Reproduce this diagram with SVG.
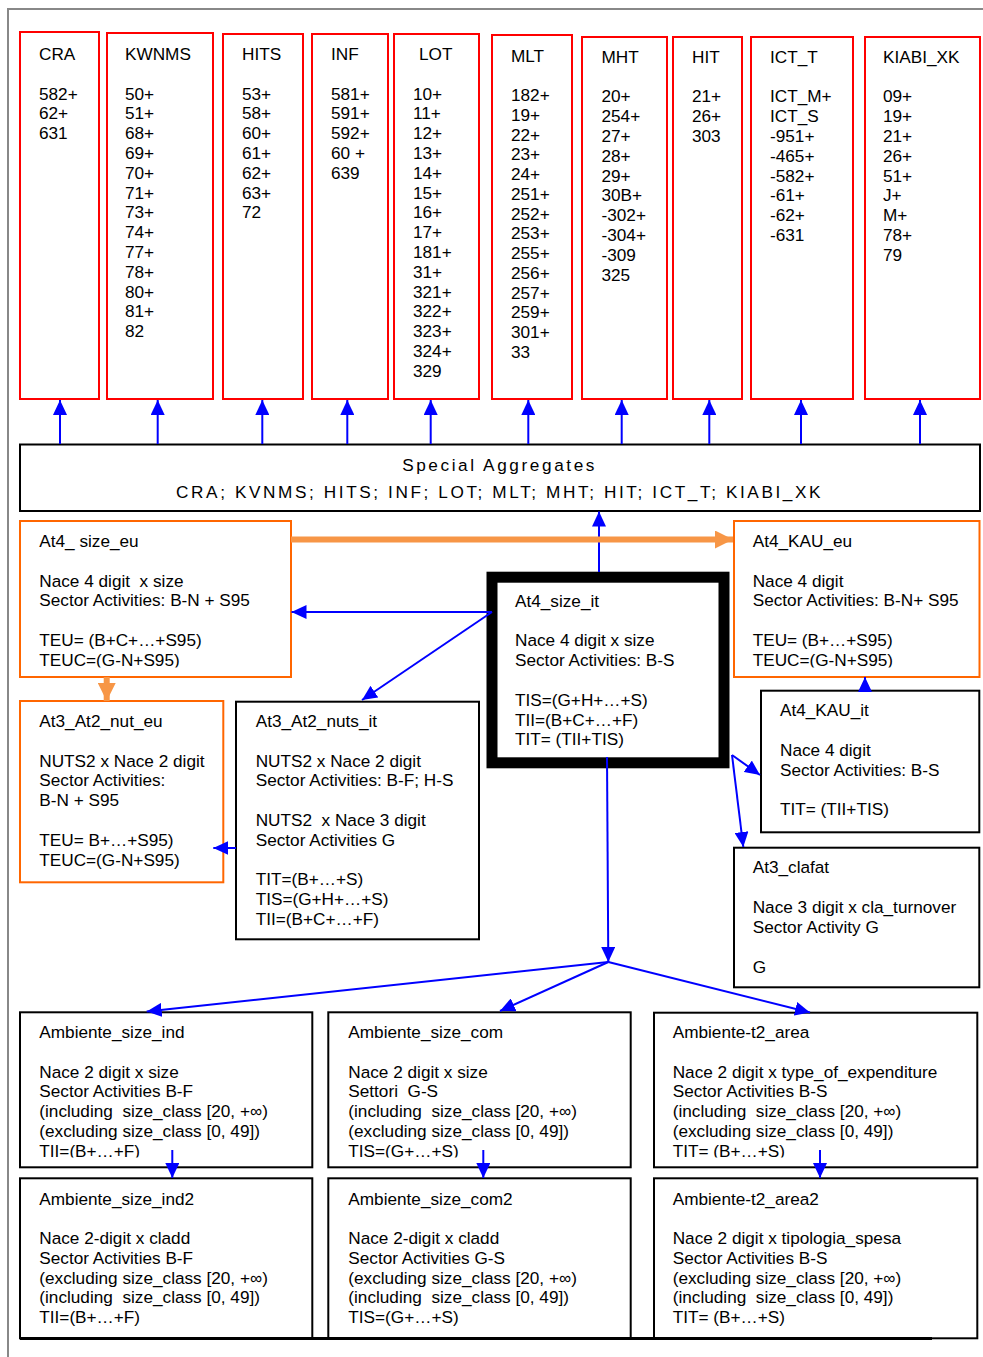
<svg xmlns="http://www.w3.org/2000/svg" width="983" height="1357" viewBox="0 0 983 1357">
<style>
.t{font-family:"Liberation Sans",Arial,sans-serif;font-size:17.2px;fill:#000;white-space:pre}
.sa{font-family:"Liberation Sans",Arial,sans-serif;font-size:17.2px;fill:#000;letter-spacing:2.6px;text-anchor:middle}
.red{fill:#fff;stroke:#FF0000;stroke-width:2}
.blk{fill:#fff;stroke:#000;stroke-width:2}
.org{fill:#fff;stroke:#FF6600;stroke-width:2}
.c{stroke:#0000FF;stroke-width:2;fill:none;marker-end:url(#ab)}
.oc{stroke:#F79646;stroke-width:6;fill:none;marker-end:url(#ao)}
</style>
<defs>
<marker id="ab" markerUnits="userSpaceOnUse" markerWidth="15" markerHeight="14" refX="15" refY="7" orient="auto"><path d="M0,0 L15,7 L0,14 z" fill="#0000FF"/></marker>
<marker id="ao" markerUnits="userSpaceOnUse" markerWidth="18" markerHeight="18" refX="18" refY="9" orient="auto"><path d="M0,0 L18,9 L0,18 z" fill="#F79646"/></marker>
<clipPath id="cl1"><rect x="0" y="500" width="983" height="167.5"/></clipPath>
<clipPath id="cl2"><rect x="0" y="1000" width="983" height="157.5"/></clipPath>
</defs>
<rect width="983" height="1357" fill="#fff"/>
<path d="M8,1357 V9 H983" fill="none" stroke="#888" stroke-width="2"/>

<g id="CRA"><rect class="red" x="20" y="32" width="79" height="367"/>
<text class="t"><tspan x="39" y="60">CRA</tspan><tspan x="39" y="99.6">582+</tspan><tspan x="39" dy="19.8">62+</tspan><tspan x="39" dy="19.8">631</tspan></text></g>

<g id="KWNMS"><rect class="red" x="107" y="33" width="106" height="366"/>
<text class="t"><tspan x="125" y="60">KWNMS</tspan><tspan x="125" y="99.6">50+</tspan><tspan x="125" dy="19.8">51+</tspan><tspan x="125" dy="19.8">68+</tspan><tspan x="125" dy="19.8">69+</tspan><tspan x="125" dy="19.8">70+</tspan><tspan x="125" dy="19.8">71+</tspan><tspan x="125" dy="19.8">73+</tspan><tspan x="125" dy="19.8">74+</tspan><tspan x="125" dy="19.8">77+</tspan><tspan x="125" dy="19.8">78+</tspan><tspan x="125" dy="19.8">80+</tspan><tspan x="125" dy="19.8">81+</tspan><tspan x="125" dy="19.8">82</tspan></text></g>

<g id="HITS"><rect class="red" x="223" y="34" width="80" height="365"/>
<text class="t"><tspan x="242" y="60">HITS</tspan><tspan x="242" y="99.6">53+</tspan><tspan x="242" dy="19.8">58+</tspan><tspan x="242" dy="19.8">60+</tspan><tspan x="242" dy="19.8">61+</tspan><tspan x="242" dy="19.8">62+</tspan><tspan x="242" dy="19.8">63+</tspan><tspan x="242" dy="19.8">72</tspan></text></g>

<g id="INF"><rect class="red" x="312" y="34" width="76" height="365"/>
<text class="t"><tspan x="331" y="60">INF</tspan><tspan x="331" y="99.6">581+</tspan><tspan x="331" dy="19.8">591+</tspan><tspan x="331" dy="19.8">592+</tspan><tspan x="331" dy="19.8">60 +</tspan><tspan x="331" dy="19.8">639</tspan></text></g>

<g id="LOT"><rect class="red" x="394" y="34" width="85" height="365"/>
<text class="t"><tspan x="419" y="60">LOT</tspan><tspan x="413" y="99.6">10+</tspan><tspan x="413" dy="19.8">11+</tspan><tspan x="413" dy="19.8">12+</tspan><tspan x="413" dy="19.8">13+</tspan><tspan x="413" dy="19.8">14+</tspan><tspan x="413" dy="19.8">15+</tspan><tspan x="413" dy="19.8">16+</tspan><tspan x="413" dy="19.8">17+</tspan><tspan x="413" dy="19.8">181+</tspan><tspan x="413" dy="19.8">31+</tspan><tspan x="413" dy="19.8">321+</tspan><tspan x="413" dy="19.8">322+</tspan><tspan x="413" dy="19.8">323+</tspan><tspan x="413" dy="19.8">324+</tspan><tspan x="413" dy="19.8">329</tspan></text></g>

<g id="MLT"><rect class="red" x="492" y="35" width="80" height="364"/>
<text class="t"><tspan x="511" y="62">MLT</tspan><tspan x="511" y="101">182+</tspan><tspan x="511" dy="19.75">19+</tspan><tspan x="511" dy="19.75">22+</tspan><tspan x="511" dy="19.75">23+</tspan><tspan x="511" dy="19.75">24+</tspan><tspan x="511" dy="19.75">251+</tspan><tspan x="511" dy="19.75">252+</tspan><tspan x="511" dy="19.75">253+</tspan><tspan x="511" dy="19.75">255+</tspan><tspan x="511" dy="19.75">256+</tspan><tspan x="511" dy="19.75">257+</tspan><tspan x="511" dy="19.75">259+</tspan><tspan x="511" dy="19.75">301+</tspan><tspan x="511" dy="19.75">33</tspan></text></g>

<g id="MHT"><rect class="red" x="582" y="37" width="85" height="362"/>
<text class="t"><tspan x="601.5" y="63.3">MHT</tspan><tspan x="601.5" y="102.3">20+</tspan><tspan x="601.5" dy="19.8">254+</tspan><tspan x="601.5" dy="19.8">27+</tspan><tspan x="601.5" dy="19.8">28+</tspan><tspan x="601.5" dy="19.8">29+</tspan><tspan x="601.5" dy="19.8">30B+</tspan><tspan x="601.5" dy="19.8">-302+</tspan><tspan x="601.5" dy="19.8">-304+</tspan><tspan x="601.5" dy="19.8">-309</tspan><tspan x="601.5" dy="19.8">325</tspan></text></g>

<g id="HIT"><rect class="red" x="673" y="37" width="69" height="362"/>
<text class="t"><tspan x="692" y="63.3">HIT</tspan><tspan x="692" y="102.3">21+</tspan><tspan x="692" dy="19.8">26+</tspan><tspan x="692" dy="19.8">303</tspan></text></g>

<g id="ICT_T"><rect class="red" x="751" y="37" width="102" height="362"/>
<text class="t"><tspan x="770" y="63.3">ICT_T</tspan><tspan x="770" y="102.3">ICT_M+</tspan><tspan x="770" dy="19.8">ICT_S</tspan><tspan x="770" dy="19.8">-951+</tspan><tspan x="770" dy="19.8">-465+</tspan><tspan x="770" dy="19.8">-582+</tspan><tspan x="770" dy="19.8">-61+</tspan><tspan x="770" dy="19.8">-62+</tspan><tspan x="770" dy="19.8">-631</tspan></text></g>

<g id="KIABI_XK"><rect class="red" x="865" y="37" width="115" height="362"/>
<text class="t"><tspan x="883" y="62.5">KIABI_XK</tspan><tspan x="883" y="102.3">09+</tspan><tspan x="883" dy="19.8">19+</tspan><tspan x="883" dy="19.8">21+</tspan><tspan x="883" dy="19.8">26+</tspan><tspan x="883" dy="19.8">51+</tspan><tspan x="883" dy="19.8">J+</tspan><tspan x="883" dy="19.8">M+</tspan><tspan x="883" dy="19.8">78+</tspan><tspan x="883" dy="19.8">79</tspan></text></g>

<g id="SpecialAggregates"><rect class="blk" x="20" y="444.5" width="960" height="66.5"/>
<text class="sa"><tspan x="499.6" y="471">Special Aggregates</tspan><tspan x="499.6" y="498.3">CRA; KVNMS; HITS; INF; LOT; MLT; MHT; HIT; ICT_T; KIABI_XK</tspan></text></g>

<g id="At4_size_eu"><rect class="org" x="20" y="521" width="271" height="156"/>
<text class="t" clip-path="url(#cl1)"><tspan x="39.3" y="546.7">At4_ size_eu</tspan><tspan x="39.3" y="586.5">Nace 4 digit  x size</tspan><tspan x="39.3" dy="19.8">Sector Activities: B-N + S95</tspan><tspan x="39.3" dy="39.6">TEU= (B+C+…+S95)</tspan><tspan x="39.3" dy="19.8">TEUC=(G-N+S95)</tspan></text></g>

<g id="At4_KAU_eu"><rect class="org" x="734" y="521" width="245.5" height="156"/>
<text class="t" clip-path="url(#cl1)"><tspan x="752.7" y="546.7">At4_KAU_eu</tspan><tspan x="752.7" y="586.5">Nace 4 digit</tspan><tspan x="752.7" dy="19.8">Sector Activities: B-N+ S95</tspan><tspan x="752.7" dy="39.6">TEU= (B+…+S95)</tspan><tspan x="752.7" dy="19.8">TEUC=(G-N+S95)</tspan></text></g>

<g id="At4_size_it"><rect x="492" y="577.2" width="232" height="185.6" fill="#fff" stroke="#000" stroke-width="11"/>
<text class="t"><tspan x="515" y="606.7">At4_size_it</tspan><tspan x="515" y="646.3">Nace 4 digit x size</tspan><tspan x="515" dy="19.8">Sector Activities: B-S</tspan><tspan x="515" dy="39.6">TIS=(G+H+…+S)</tspan><tspan x="515" dy="19.8">TII=(B+C+…+F)</tspan><tspan x="515" dy="19.8">TIT= (TII+TIS)</tspan></text></g>

<g id="At3_At2_nut_eu"><rect class="org" x="20" y="701" width="203.3" height="181.3"/>
<text class="t"><tspan x="39.3" y="726.7">At3_At2_nut_eu</tspan><tspan x="39.3" y="766.5">NUTS2 x Nace 2 digit</tspan><tspan x="39.3" dy="19.8">Sector Activities:</tspan><tspan x="39.3" dy="19.8">B-N + S95</tspan><tspan x="39.3" dy="39.6">TEU= B+…+S95)</tspan><tspan x="39.3" dy="19.8">TEUC=(G-N+S95)</tspan></text></g>

<g id="At3_At2_nuts_it"><rect class="blk" x="236" y="701.7" width="243" height="237.6"/>
<text class="t"><tspan x="255.7" y="726.7">At3_At2_nuts_it</tspan><tspan x="255.7" y="766.5">NUTS2 x Nace 2 digit</tspan><tspan x="255.7" dy="19.8">Sector Activities: B-F; H-S</tspan><tspan x="255.7" dy="39.6">NUTS2  x Nace 3 digit</tspan><tspan x="255.7" dy="19.8">Sector Activities G</tspan><tspan x="255.7" dy="39.6">TIT=(B+…+S)</tspan><tspan x="255.7" dy="19.8">TIS=(G+H+…+S)</tspan><tspan x="255.7" dy="19.8">TII=(B+C+…+F)</tspan></text></g>

<g id="At4_KAU_it"><rect class="blk" x="761" y="690.7" width="218.3" height="141.6"/>
<text class="t"><tspan x="780" y="716">At4_KAU_it</tspan><tspan x="780" y="755.8">Nace 4 digit</tspan><tspan x="780" dy="19.8">Sector Activities: B-S</tspan><tspan x="780" dy="39.6">TIT= (TII+TIS)</tspan></text></g>

<g id="At3_clafat"><rect class="blk" x="734" y="847.7" width="245.3" height="139.6"/>
<text class="t"><tspan x="752.7" y="873.3">At3_clafat</tspan><tspan x="752.7" y="913.1">Nace 3 digit x cla_turnover</tspan><tspan x="752.7" dy="19.8">Sector Activity G</tspan><tspan x="752.7" dy="39.6">G</tspan></text></g>

<g id="Ambiente_size_ind"><rect class="blk" x="20" y="1012.3" width="292.3" height="155"/>
<text class="t" clip-path="url(#cl2)"><tspan x="39.3" y="1038.3">Ambiente_size_ind</tspan><tspan x="39.3" y="1077.7">Nace 2 digit x size</tspan><tspan x="39.3" dy="19.75">Sector Activities B-F</tspan><tspan x="39.3" dy="19.75">(including  size_class [20, +∞)</tspan><tspan x="39.3" dy="19.75">(excluding size_class [0, 49])</tspan><tspan x="39.3" dy="19.75">TII=(B+…+F)</tspan></text></g>

<g id="Ambiente_size_ind2"><rect class="blk" x="20" y="1178.3" width="292.3" height="160"/>
<text class="t"><tspan x="39.3" y="1204.5">Ambiente_size_ind2</tspan><tspan x="39.3" y="1244">Nace 2-digit x cladd</tspan><tspan x="39.3" dy="19.75">Sector Activities B-F</tspan><tspan x="39.3" dy="19.75">(excluding size_class [20, +∞)</tspan><tspan x="39.3" dy="19.75">(including  size_class [0, 49])</tspan><tspan x="39.3" dy="19.75">TII=(B+…+F)</tspan></text></g>

<g id="Ambiente_size_com"><rect class="blk" x="328.3" y="1012.3" width="302.4" height="155"/>
<text class="t" clip-path="url(#cl2)"><tspan x="348.3" y="1038.3">Ambiente_size_com</tspan><tspan x="348.3" y="1077.7">Nace 2 digit x size</tspan><tspan x="348.3" dy="19.75">Settori  G-S</tspan><tspan x="348.3" dy="19.75">(including  size_class [20, +∞)</tspan><tspan x="348.3" dy="19.75">(excluding size_class [0, 49])</tspan><tspan x="348.3" dy="19.75">TIS=(G+…+S)</tspan></text></g>

<g id="Ambiente_size_com2"><rect class="blk" x="328.3" y="1178.3" width="302.4" height="160"/>
<text class="t"><tspan x="348.3" y="1204.5">Ambiente_size_com2</tspan><tspan x="348.3" y="1244">Nace 2-digit x cladd</tspan><tspan x="348.3" dy="19.75">Sector Activities G-S</tspan><tspan x="348.3" dy="19.75">(excluding size_class [20, +∞)</tspan><tspan x="348.3" dy="19.75">(including  size_class [0, 49])</tspan><tspan x="348.3" dy="19.75">TIS=(G+…+S)</tspan></text></g>

<g id="Ambiente-t2_area"><rect class="blk" x="654" y="1012.7" width="323.3" height="154.6"/>
<text class="t" clip-path="url(#cl2)"><tspan x="672.7" y="1038.3">Ambiente-t2_area</tspan><tspan x="672.7" y="1077.7">Nace 2 digit x type_of_expenditure</tspan><tspan x="672.7" dy="19.75">Sector Activities B-S</tspan><tspan x="672.7" dy="19.75">(including  size_class [20, +∞)</tspan><tspan x="672.7" dy="19.75">(excluding size_class [0, 49])</tspan><tspan x="672.7" dy="19.75">TIT= (B+…+S)</tspan></text></g>

<g id="Ambiente-t2_area2"><rect class="blk" x="654" y="1178.3" width="323.3" height="160"/>
<text class="t"><tspan x="672.7" y="1204.5">Ambiente-t2_area2</tspan><tspan x="672.7" y="1244">Nace 2 digit x tipologia_spesa</tspan><tspan x="672.7" dy="19.75">Sector Activities B-S</tspan><tspan x="672.7" dy="19.75">(excluding size_class [20, +∞)</tspan><tspan x="672.7" dy="19.75">(including  size_class [0, 49])</tspan><tspan x="672.7" dy="19.75">TIT= (B+…+S)</tspan></text></g>

<line x1="20" y1="1338.5" x2="932" y2="1338.5" stroke="#000" stroke-width="3"/>

<g id="connectors">
<line class="c" x1="60" y1="444" x2="60" y2="400"/>
<line class="c" x1="157.7" y1="444" x2="157.7" y2="400"/>
<line class="c" x1="262.3" y1="444" x2="262.3" y2="400"/>
<line class="c" x1="347.3" y1="444" x2="347.3" y2="400"/>
<line class="c" x1="430.7" y1="444" x2="430.7" y2="400"/>
<line class="c" x1="528.3" y1="444" x2="528.3" y2="400"/>
<line class="c" x1="621.7" y1="444" x2="621.7" y2="400"/>
<line class="c" x1="709.3" y1="444" x2="709.3" y2="400"/>
<line class="c" x1="801" y1="444" x2="801" y2="400"/>
<line class="c" x1="920" y1="444" x2="920" y2="400"/>
<line class="c" x1="599" y1="572" x2="599" y2="511.5"/>
<line class="oc" x1="291" y1="539.5" x2="733" y2="539.5"/>
<line class="oc" x1="106.7" y1="677" x2="106.7" y2="701"/>
<line class="c" x1="492" y1="612" x2="291.5" y2="612"/>
<line class="c" x1="492" y1="612" x2="362" y2="700"/>
<line class="c" x1="865" y1="690.7" x2="865" y2="677"/>
<line class="c" x1="236" y1="848" x2="213.3" y2="848"/>
<line class="c" x1="732" y1="755" x2="760" y2="775"/>
<line class="c" x1="732" y1="755" x2="743.3" y2="847"/>
<line class="c" x1="607" y1="757" x2="608.3" y2="962"/>
<line class="c" x1="608.3" y1="962" x2="146.7" y2="1011.5"/>
<line class="c" x1="608.3" y1="962" x2="500" y2="1011"/>
<line class="c" x1="608.3" y1="962" x2="810" y2="1012.5"/>
<line class="c" x1="172.3" y1="1150" x2="172.3" y2="1178"/>
<line class="c" x1="483.3" y1="1150" x2="483.3" y2="1178"/>
<line class="c" x1="820" y1="1150" x2="820" y2="1178"/>
</g>
</svg>
